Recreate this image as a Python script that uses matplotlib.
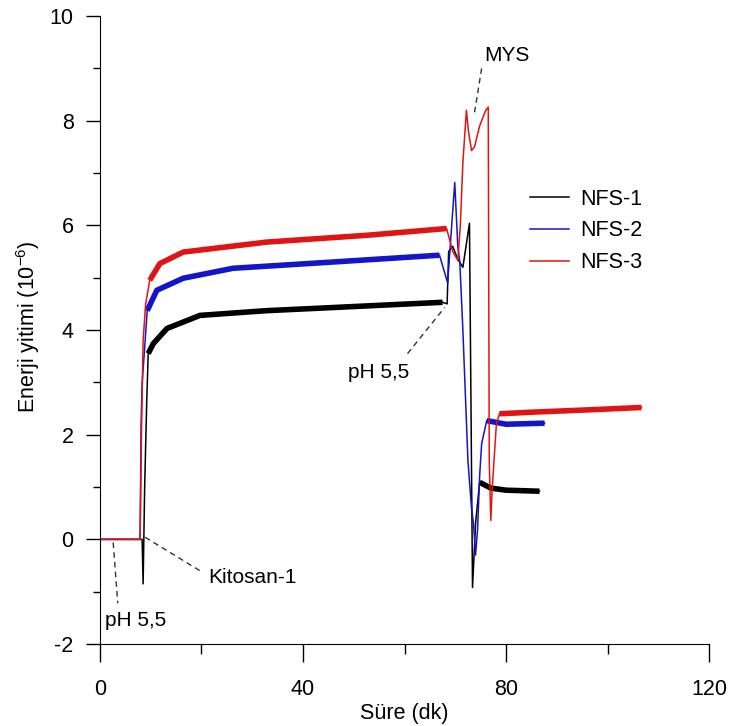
import numpy as np
import matplotlib.pyplot as plt
from matplotlib.ticker import MultipleLocator

# values (time in minutes, energy dissipation x1e-6)
t_nfs1 = [0, 7.9, 8.3, 8.5, 8.8, 9.2, 9.5, 10.5, 13.2, 19.7, 32.8, 45.9, 67.5,
          68.4, 68.7, 69.5, 70.5, 71.5, 72.8, 73.4, 74.0, 74.8, 77, 80, 86.6]
v_nfs1 = [0, 0, 0, -0.85, 1.0, 2.6, 3.55, 3.74, 4.03, 4.28, 4.37, 4.43, 4.53,
          4.5, 5.5, 5.6, 5.35, 5.2, 6.04, -0.92, 0.3, 1.09, 0.98, 0.94, 0.92]

t_nfs2 = [0, 7.9, 8.1, 8.3, 8.9, 9.3, 11.2, 16.4, 26.2, 45.9, 66.9, 68.5, 69.3,
          69.9, 70.5, 70.9, 71.5, 72.5, 73.2, 73.6, 74.0, 74.4, 74.8, 75.2, 76.2,
          80, 87.6]
v_nfs2 = [0, 0, 2.2, 2.98, 3.8, 4.37, 4.76, 4.99, 5.18, 5.3, 5.43, 4.9, 6.0,
          6.82, 5.6, 5.3, 4.0, 1.5, 0.6, 0.3, -0.3, 0.2, 1.2, 1.83, 2.27,
          2.2, 2.22]

t_nfs3 = [0, 7.9, 8.2, 8.5, 9.0, 9.8, 11.8, 16.4, 32.8, 52.5, 68.3, 69.5, 70.5,
          71.0, 71.5, 72.2, 72.6, 73.2, 73.8, 74.8, 76.0, 76.5, 76.7, 77.0, 77.3,
          78.1, 78.7, 85, 95, 106.7]
v_nfs3 = [0, 0, 2.2, 3.8, 4.5, 4.95, 5.27, 5.49, 5.68, 5.81, 5.94, 5.5, 5.33,
          6.0, 7.2, 8.2, 7.8, 7.43, 7.5, 7.9, 8.2, 8.26, 1.5, 0.36, 1.0,
          2.2, 2.4, 2.43, 2.47, 2.52]

# noisy plateau stretches (drawn as a thicker band)
bands_nfs1 = [(9.5, 67.5), (74.8, 86.6)]
bands_nfs2 = [(9.3, 66.9), (76.2, 87.6)]
bands_nfs3 = [(9.8, 68.3), (78.7, 106.7)]

labels = ["NFS-1", "NFS-2", "NFS-3"]
colors = ["#000000", "#1414c8", "#e01414"]

plt.rcParams['font.family'] = ['Liberation Sans', 'DejaVu Sans']
plt.rcParams['mathtext.fontset'] = 'custom'
plt.rcParams['mathtext.rm'] = 'Liberation Sans'
plt.rcParams['axes.unicode_minus'] = False

fig = plt.figure(figsize=(7.32, 7.26), dpi=100)
ax = fig.add_axes([0.1366, 0.1129, 0.832, 0.865])

series = [(t_nfs1, v_nfs1, bands_nfs1), (t_nfs2, v_nfs2, bands_nfs2),
          (t_nfs3, v_nfs3, bands_nfs3)]
for (t, v, bands), lab, col in zip(series, labels, colors):
    t = np.array(t)
    v = np.array(v)
    ax.plot(t, v, color=col, lw=1.1, label=lab)
    for a, b in bands:
        m = (t >= a) & (t <= b)
        ax.plot(t[m], v[m], color=col, lw=4.0, solid_capstyle='butt')

ax.set_xlim(0, 120)
ax.set_ylim(-2, 10)
ax.xaxis.set_major_locator(MultipleLocator(40))
ax.xaxis.set_minor_locator(MultipleLocator(20))
ax.yaxis.set_major_locator(MultipleLocator(2))
ax.yaxis.set_minor_locator(MultipleLocator(1))
ax.spines['top'].set_visible(False)
ax.spines['right'].set_visible(False)
ax.tick_params(which='both', direction='out', width=1, labelsize=15.5)
ax.tick_params(axis='x', which='major', length=13, pad=12)
ax.tick_params(axis='x', which='minor', length=7)
ax.tick_params(axis='y', which='major', length=10, pad=9)
ax.tick_params(axis='y', which='minor', length=5)
ax.set_xlabel("Süre (dk)", fontsize=15.5, labelpad=2)
ax.set_ylabel("Enerji yitimi (10$^{\\mathrm{-6}}$)", fontsize=15.5)
ax.yaxis.set_label_coords(-0.095, 0.505)

ax.legend(loc='center left', bbox_to_anchor=(0.706, 0.658), frameon=False,
          fontsize=15.5, handlelength=1.8, handletextpad=0.55, labelspacing=0.5,
          borderpad=0, borderaxespad=0)

# annotations
ann = dict(color='#333333', lw=1, ls=(0, (4, 3)))
ax.plot([2.6, 3.5], [-0.06, -1.22], **ann)
ax.text(1.0, -1.55, "pH 5,5", fontsize=15, va='center', ha='left')
ax.plot([8.9, 19.7], [0.04, -0.6], **ann)
ax.text(21.3, -0.73, "Kitosan-1", fontsize=15, va='center', ha='left')
ax.plot([60.6, 67.9], [3.55, 4.43], **ann)
ax.text(48.8, 3.19, "pH 5,5", fontsize=15, va='center', ha='left')
ax.plot([75.2, 73.8], [9.0, 8.16], **ann)
ax.text(75.8, 9.25, "MYS", fontsize=15, va='center', ha='left')

fig.savefig("out.png", dpi=100)
